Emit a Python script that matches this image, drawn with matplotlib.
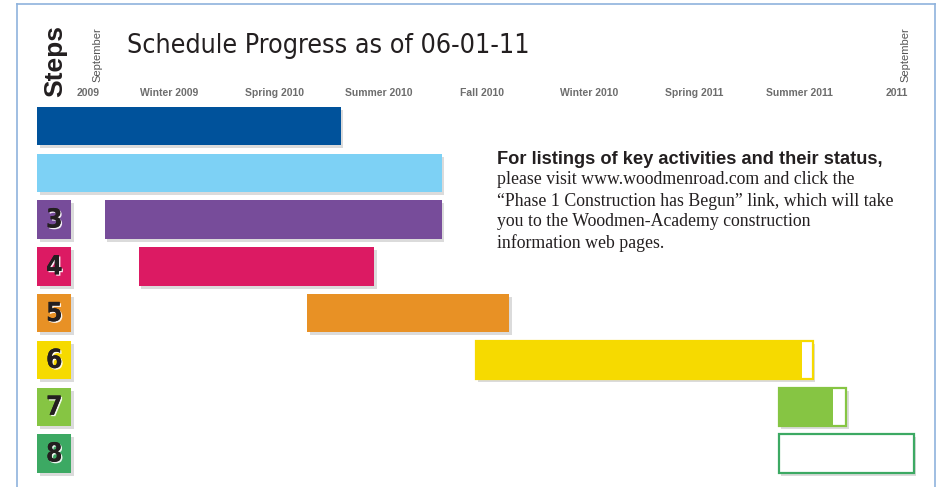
import matplotlib
matplotlib.use("Agg")
import matplotlib.pyplot as plt
from matplotlib.patches import Rectangle
from matplotlib.lines import Line2D
from matplotlib import font_manager
import matplotlib.patheffects as pe

# schedule, in months counted from September 2009
steps = [1, 2, 3, 4, 5, 6, 7, 8]
starts = [-1.5, -1.5, 0.5, 1.5, 6.5, 11.5, 20.5, 20.5]
ends = [7.5, 10.5, 10.5, 8.5, 12.5, 21.5, 22.5, 24.5]
done = [7.5, 10.5, 10.5, 8.5, 12.5, 21.2, 22.1, 20.5]
colors = ['#00529B', '#7DD1F5', '#774C9A', '#DC1A63',
          '#E89125', '#F6DA00', '#86C543', '#3CA963']

season_labels = ['2009', 'Winter 2009', 'Spring 2010', 'Summer 2010', 'Fall 2010',
                 'Winter 2010', 'Spring 2011', 'Summer 2011', '2011']
season_pos = [0, 2.4, 5.52, 8.63, 11.69, 14.87, 17.98, 21.1, 24.0]

W, H = 940, 487
fig = plt.figure(figsize=(W / 100, H / 100), dpi=100)
ax = fig.add_axes([0, 0, 1, 1])
ax.set_xlim(-88 / 33.7, (W - 88) / 33.7)
ax.set_ylim((H - 79.2) / 46.8, -79.2 / 46.8)
ax.axis('off')

def fx(x):
    return x / W

def fy(y):
    return 1 - y / H

# look for a condensed face, else fall back to plain sans
narrow_reg, narrow_bold = None, None
for f in font_manager.fontManager.ttflist:
    squeezed = ('condensed' in str(f.stretch)) or 'Narrow' in f.name or 'Condensed' in f.name
    if not squeezed or f.style != 'normal':
        continue
    if f.weight in (700, 'bold') and narrow_bold is None:
        narrow_bold = f.fname
    elif f.weight in (400, 'normal', 'regular') and narrow_reg is None:
        narrow_reg = f.fname

def nfont(bold=False):
    fn = narrow_bold if bold else narrow_reg
    if fn:
        return font_manager.FontProperties(fname=fn)
    return font_manager.FontProperties(family='Liberation Sans', weight='bold' if bold else 'normal')

sans = ['Liberation Sans', 'DejaVu Sans']

bh = 0.82
sx, sy = 2.5 / 33.7, 3 / 46.8  # shadow offset

for s, a, b, d, c in zip(steps, starts, ends, done, colors):
    ax.add_patch(Rectangle((a + sx, s - bh / 2 + sy), b - a, bh, fc='#c4c4c4', ec='none', alpha=0.6, zorder=1))
    if s >= 3:
        ax.add_patch(Rectangle((-1.5 + sx, s - bh / 2 + sy), 1.0, bh, fc='#c4c4c4', ec='none', alpha=0.6, zorder=1))
        ax.add_patch(Rectangle((-1.5, s - bh / 2), 1.0, bh, fc=c, ec='none', zorder=2))
        fp = nfont(True)
        fp.set_size(19)
        ax.text(-1.0, s + 0.02, str(s), ha='center', va='center', fontproperties=fp,
                color='#231F20', zorder=3,
                path_effects=[pe.withSimplePatchShadow(offset=(1, -1), shadow_rgbFace='white', alpha=0.9),
                              pe.Normal()])
    if d < b:
        ax.add_patch(Rectangle((a, s - bh / 2), b - a, bh, fc='white', ec=c, lw=1.6, zorder=2))
    if d > a:
        ax.add_patch(Rectangle((a, s - bh / 2), d - a, bh, fc=c, ec='none', zorder=3))

for lab, p in zip(season_labels, season_pos):
    ax.text(p, 0.295, lab, ha='center', va='center', fontsize=7.5, fontweight='bold',
            family=sans, color='#6d6d6d')

for p in [season_pos[0], season_pos[-1]]:
    ax.text(p + 0.27, -0.52, 'September', ha='center', va='center', rotation=90,
            fontsize=8, family=sans, color='#555555')

fig.text(fx(55), fy(61), 'Steps', rotation=90, ha='center', va='center', fontsize=19,
         fontweight='bold', family=sans, color='#231F20')

tp = nfont(False)
tp.set_size(22)
title = fig.text(fx(127), fy(46), 'Schedule Progress as of 06-01-11', ha='left', va='center',
                 fontproperties=tp, color='#231F20')

head = fig.text(fx(497), fy(159), 'For listings of key activities and their status,', ha='left',
                va='center', fontsize=12.5, fontweight='bold', family=sans, color='#231F20')
body = ['please visit www.woodmenroad.com and click the',
        '\u201cPhase 1 Construction has Begun\u201d link, which will take',
        'you to the Woodmen-Academy construction',
        'information web pages.']
for i, line in enumerate(body):
    fig.text(fx(497), fy(180 + 21 * i), line, ha='left', va='center', fontsize=12.8,
             family=['Liberation Serif', 'DejaVu Serif'], color='#231F20')

# squeeze title and heading to the widths seen in the print
fig.canvas.draw()
for t, wpx in [(title, 401), (head, 387)]:
    bb = t.get_window_extent()
    t.set_fontsize(t.get_fontsize() * wpx / bb.width)

# light blue page frame
fc = '#8FB3DD'
fig.add_artist(Line2D([fx(17), fx(17)], [fy(4), 0], color=fc, lw=1.2))
fig.add_artist(Line2D([fx(17), fx(935)], [fy(4), fy(4)], color=fc, lw=1.2))
fig.add_artist(Line2D([fx(935), fx(935)], [fy(4), 0], color=fc, lw=1.2))

fig.savefig('out.png', dpi=100)
